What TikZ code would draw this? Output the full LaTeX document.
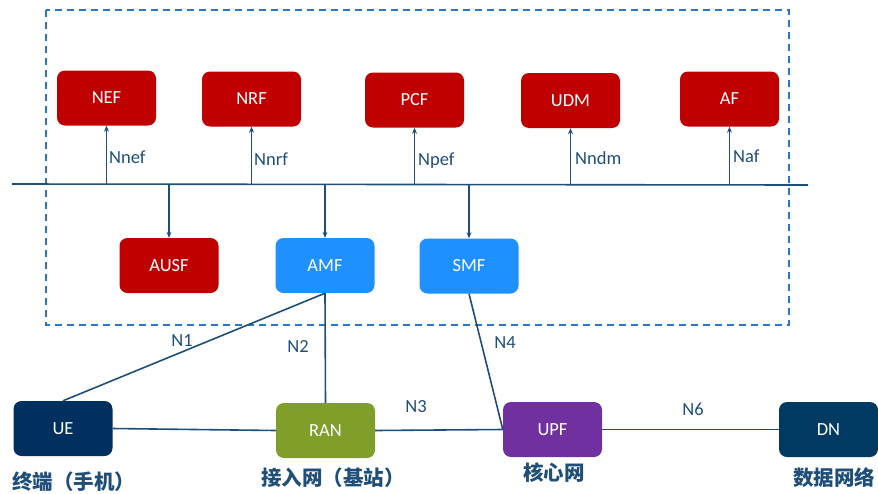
\documentclass[tikz,border=0pt]{standalone}
\usepackage{fontspec}
\setmainfont{Carlito}
\newfontfamily\cjk{Noto Sans CJK SC}
\usetikzlibrary{arrows.meta}
\definecolor{nfred}{HTML}{C00000}
\definecolor{nfblue}{HTML}{1E90FF}
\definecolor{navy}{HTML}{003060}
\definecolor{dnnavy}{HTML}{003A63}
\definecolor{rangreen}{HTML}{7F9F2A}
\definecolor{upfpurple}{HTML}{7030A0}
\definecolor{linec}{HTML}{1F4E79}
\definecolor{dashc}{HTML}{2878C8}
\tikzset{
  nf/.style={rectangle, rounded corners=8pt, minimum width=99pt, minimum height=55pt,
    text=white, font=\fontsize{18.5}{20}\selectfont, inner sep=0pt},
  conn/.style={draw=linec, line width=1.6pt},
  arr/.style={conn, -{Stealth[length=6pt,width=5pt]}},
  lbl/.style={text=linec, font=\fontsize{18.5}{20}\selectfont, inner sep=0pt},
  cnlbl/.style={text=linec, font=\cjk\bfseries\fontsize{20.5}{22}\selectfont, inner sep=0pt},
}
\begin{document}
\begin{tikzpicture}[x=1pt,y=-1pt]
\useasboundingbox (0,0) rectangle (878,493);
% dashed frame
\draw[dashc, line width=2pt, dash pattern=on 7pt off 5pt] (46,10) rectangle (789,325);
% top NFs
\node[nf, fill=nfred] (NEF) at (106.5,98) {NEF};
\node[nf, fill=nfred] (NRF) at (251.5,99) {NRF};
\node[nf, fill=nfred] (PCF) at (414.5,100) {PCF};
\node[nf, fill=nfred] (UDM) at (570.5,100.5) {UDM};
\node[nf, fill=nfred] (AF) at (729.5,99) {AF};
% lower NFs
\node[nf, fill=nfred] (AUSF) at (169,265.5) {AUSF};
\node[nf, fill=nfblue] (AMF) at (325,265.5) {AMF};
\node[nf, fill=nfblue] (SMF) at (469,266) {SMF};
% bottom row
\node[nf, fill=navy] (UE) at (63,428.5) {UE};
\node[nf, fill=rangreen] (RAN) at (325.5,430.5) {RAN};
\node[nf, fill=upfpurple] (UPF) at (552.5,429.5) {UPF};
\node[nf, fill=dnnavy] (DN) at (828.5,429.5) {DN};
% bus
\coordinate (busL) at (12,184);
\coordinate (busR) at (808,185);
\draw[conn] (busL) -- (busR);
\coordinate (bNEF) at (NEF.south |- busL);
\coordinate (bNRF) at (NRF.south |- busL);
\coordinate (bPCF) at (PCF.south |- busL);
\coordinate (bUDM) at (UDM.south |- busL);
\coordinate (bAF) at (AF.south |- busL);
\coordinate (bAUSF) at (AUSF.north |- busL);
\coordinate (bAMF) at (AMF.north |- busL);
\coordinate (bSMF) at (SMF.north |- busL);
\draw[arr] (bNEF) -- (NEF.south);
\draw[arr] (bNRF) -- (NRF.south);
\draw[arr] (bPCF) -- (PCF.south);
\draw[arr] (bUDM) -- (UDM.south);
\draw[arr] (bAF) -- (AF.south);
\draw[arr] (bAUSF) -- (AUSF.north);
\draw[arr] (bAMF) -- (AMF.north);
\draw[arr] (bSMF) -- (SMF.north);
% service interface labels
\node[lbl, anchor=west] (lNnef) at (109,157) {Nnef};
\node[lbl, anchor=west] (lNnrf) at (254,159) {Nnrf};
\node[lbl, anchor=west] (lNpef) at (418,161) {Npef};
\node[lbl, anchor=west] (lNndm) at (575,158) {Nndm};
\node[lbl, anchor=west] (lNaf) at (733,156) {Naf};
% reference points
\draw[conn] (UE.north) -- (AMF.south);
\draw[conn] (AMF.south) -- (RAN.north);
\draw[conn] (UE.east) -- (RAN.west);
\draw[conn] (RAN.east) -- (UPF.west);
\draw[conn] (SMF.south) -- (UPF.west);
\draw[conn] (UPF.east) -- (DN.west);
\node[lbl] (lN1) at (182,341) {N1};
\node[lbl] (lN2) at (298,346) {N2};
\node[lbl] (lN3) at (416,407) {N3};
\node[lbl] (lN4) at (505,343) {N4};
\node[lbl] (lN6) at (693,409) {N6};
% chinese labels
\node[cnlbl, anchor=west] (cUE) at (12,482) {终端（手机）};
\node[cnlbl, anchor=west] (cRAN) at (261,478) {接入网（基站）};
\node[cnlbl, anchor=west] (cUPF) at (523,473) {核心网};
\node[cnlbl, anchor=west] (cDN) at (793,478) {数据网络};
\end{tikzpicture}
\end{document}
